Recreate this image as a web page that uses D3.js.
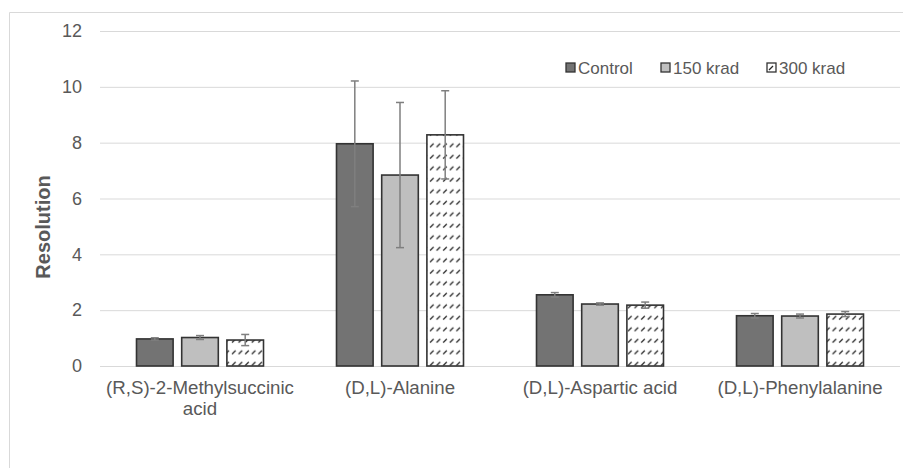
<!DOCTYPE html>
<html><head><meta charset="utf-8">
<script src="https://cdn.jsdelivr.net/npm/d3@7"></script>
<style>
body{margin:0;background:#fff;}
svg{display:block;}
</style></head>
<body>
<svg id="c" width="903" height="468"></svg>
<script>
const categories = ["(R,S)-2-Methylsuccinic acid", "(D,L)-Alanine", "(D,L)-Aspartic acid", "(D,L)-Phenylalanine"];
const seriesNames = ["Control", "150 krad", "300 krad"];
const controlValues = [0.97, 7.96, 2.55, 1.80];
const krad150Values = [1.02, 6.84, 2.22, 1.79];
const krad300Values = [0.93, 8.28, 2.18, 1.86];
const controlErrors = [0.04, 2.25, 0.08, 0.08];
const krad150Errors = [0.07, 2.60, 0.04, 0.07];
const krad300Errors = [0.20, 1.58, 0.11, 0.09];
const yTicks = [0, 2, 4, 6, 8, 10, 12];

const seriesValues = [controlValues, krad150Values, krad300Values];
const seriesErrors = [controlErrors, krad150Errors, krad300Errors];
const fills = ["#737373", "#bfbfbf", "url(#hatch)"];

const svg = d3.select("#c");
const defs = svg.append("defs");
const pat = defs.append("pattern").attr("id", "hatch").attr("patternUnits", "userSpaceOnUse")
  .attr("width", 6.6).attr("height", 11.5);
pat.append("rect").attr("width", 6.6).attr("height", 11.5).attr("fill", "#fff");
pat.append("line").attr("x1", 1).attr("y1", 9).attr("x2", 4.6).attr("y2", 5.6)
  .attr("stroke", "#262626").attr("stroke-width", 1.3);

// chart border
svg.append("path").attr("d", "M9.5,468 V12.5 H903").attr("fill", "none").attr("stroke", "#d9d9d9");

const x0 = d3.scaleBand().domain(categories).range([100, 900]);
const y = d3.scaleLinear().domain([0, 12]).range([366, 31]);
const x1 = d3.scaleBand().domain(seriesNames).range([0, 127]).paddingInner(0.19);

// grid
const yAxis = d3.axisLeft(y).tickValues(yTicks).tickSize(-800).tickPadding(18).tickFormat(d3.format("d"));
const gy = svg.append("g").attr("transform", "translate(100,0)").call(yAxis);
gy.select(".domain").remove();
gy.selectAll(".tick line").attr("stroke", "#d9d9d9").attr("stroke-width", 1);
gy.selectAll(".tick text").attr("fill", "#595959").attr("font-family", "Liberation Sans, Arial, sans-serif").attr("font-size", 18);

// y title
svg.append("text").attr("transform", "translate(50,227) rotate(-90)")
  .attr("text-anchor", "middle").attr("font-family", "Liberation Sans, Arial, sans-serif")
  .attr("font-weight", "bold").attr("font-size", 20).attr("fill", "#595959").text("Resolution");

// bars
const groupOffset = (x0.bandwidth() - 127) / 2;
seriesNames.forEach((s, si) => {
  const g = svg.append("g");
  categories.forEach((c, ci) => {
    const v = seriesValues[si][ci];
    const bx = x0(c) + groupOffset + x1(s);
    g.append("rect").attr("x", bx).attr("y", y(v)).attr("width", x1.bandwidth())
      .attr("height", y(0) - y(v)).attr("fill", fills[si])
      .attr("stroke", "#333").attr("stroke-width", 1.6);
  });
});
// error bars
seriesNames.forEach((s, si) => {
  categories.forEach((c, ci) => {
    const v = seriesValues[si][ci], e = seriesErrors[si][ci];
    const cx = x0(c) + groupOffset + x1(s) + x1.bandwidth() / 2;
    const g = svg.append("g").attr("stroke", "#7f7f7f").attr("stroke-width", 1.5);
    g.append("line").attr("x1", cx).attr("x2", cx).attr("y1", y(v + e)).attr("y2", y(v - e));
    g.append("line").attr("x1", cx - 4).attr("x2", cx + 4).attr("y1", y(v + e)).attr("y2", y(v + e));
    g.append("line").attr("x1", cx - 4).attr("x2", cx + 4).attr("y1", y(v - e)).attr("y2", y(v - e));
  });
});

// x labels
const xl = svg.append("g").attr("font-family", "Liberation Sans, Arial, sans-serif")
  .attr("font-size", 18.7).attr("fill", "#595959").attr("text-anchor", "middle");
const wrap = {"(R,S)-2-Methylsuccinic acid": ["(R,S)-2-Methylsuccinic", "acid"]};
categories.forEach(c => {
  const lines = wrap[c] || [c];
  const t = xl.append("text").attr("x", x0(c) + x0.bandwidth() / 2).attr("y", 394);
  lines.forEach((l, i) => t.append("tspan").attr("x", x0(c) + x0.bandwidth() / 2).attr("dy", i ? 21 : 0).text(l));
});

// legend
const legendX = [566, 661, 767];
const lg = svg.append("g").attr("font-family", "Liberation Sans, Arial, sans-serif").attr("font-size", 17).attr("fill", "#595959");
seriesNames.forEach((s, si) => {
  lg.append("rect").attr("x", legendX[si]).attr("y", 63).attr("width", 9).attr("height", 9)
    .attr("fill", si === 2 ? "#fff" : fills[si]).attr("stroke", "#333").attr("stroke-width", 1.3);
  if (si === 2) lg.append("line").attr("x1", legendX[si] + 2).attr("y1", 70).attr("x2", legendX[si] + 6).attr("y2", 66).attr("stroke", "#262626").attr("stroke-width", 1.2);
  lg.append("text").attr("x", legendX[si] + 12).attr("y", 74).text(s);
});
</script>
</body></html>
